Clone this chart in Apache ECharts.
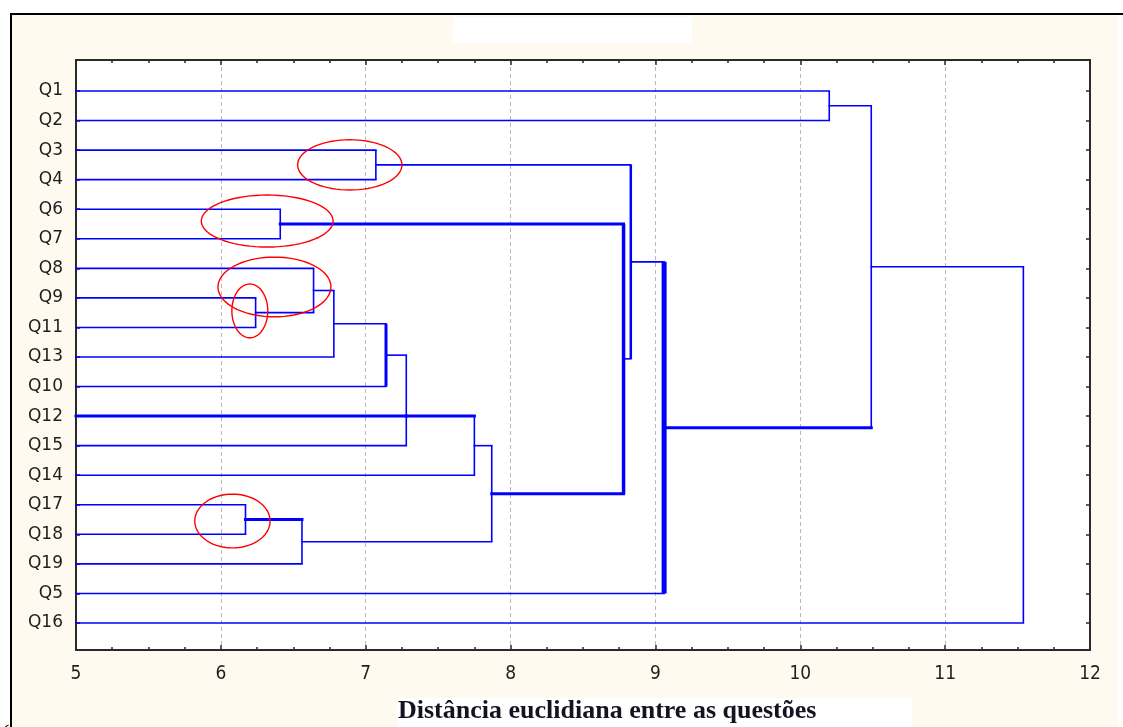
<!DOCTYPE html>
<html><head><meta charset="utf-8">
<script src="https://cdn.jsdelivr.net/npm/echarts@6/dist/echarts.min.js"></script>
<style>html,body{margin:0;padding:0;background:#fff}#c{width:1123px;height:727px}</style>
</head><body><div id="c"></div>
<script>
// ---- data ----
const leaves = ['Q1','Q2','Q3','Q4','Q6','Q7','Q8','Q9','Q11','Q13','Q10','Q12','Q15','Q14','Q17','Q18','Q19','Q5','Q16'];
const mergeIds = ['m0','m1','m2','m3','m4','m5','m6','m7','m8','m9','m10','m11','m12','m13','m14','m15','m16'];
const mergeChildren = [
  ['Q1','Q2'], ['Q3','Q4'], ['Q6','Q7'], ['Q9','Q11'], ['Q8','m3'], ['m4','Q13'],
  ['m5','Q10'], ['m6','Q12','Q15'], ['m7','Q14'], ['Q17','Q18'], ['m9','Q19'],
  ['m8','m10'], ['m2','m11'], ['m1','m12'], ['m13','Q5'], ['m0','m14'], ['m15','Q16']
];
const mergeHeights = [10.20, 7.07, 6.41, 6.24, 6.64, 6.78, 7.14, 7.28, 7.75, 6.17, 6.56, 7.87, 8.78, 8.83, 9.06, 10.49, 11.54];
const xTicks = [5, 6, 7, 8, 9, 10, 11, 12];
const axisTitle = 'Distância euclidiana entre as questões';
// red annotation ellipses: [centre distance, centre row, half width (distance), half height (rows)]
const ellipses = [[6.89, 2.50, 0.36, 0.85], [6.32, 4.40, 0.455, 0.88], [6.37, 6.63, 0.39, 1.01], [6.20, 7.44, 0.124, 0.91], [6.08, 14.55, 0.26, 0.91]];

// ---- styles ----
const outWidth = {Q12: 3, m2: 3, m7: 3, m9: 3, m11: 3, m14: 3};
const vertWidth = {m6: 3, m12: 3.5, m13: 2.5, m14: 5};
const thin = 1.6;
const BLUE = '#0000ff';
const FRAME = '#2a2a2a';

// ---- build tree segments ----
const xMin = xTicks[0], xMax = xTicks[xTicks.length - 1];
const nodeY = {}, nodeH = {};
leaves.forEach((l, i) => { nodeY[l] = i; nodeH[l] = xMin; });
const segs = [];
mergeIds.forEach((id, k) => {
  const ch = mergeChildren[k], h = mergeHeights[k];
  const ys = ch.map(c => nodeY[c]).sort((a, b) => a - b);
  nodeY[id] = ys.length === 2 ? (ys[0] + ys[1]) / 2 : ys[Math.floor(ys.length / 2)];
  nodeH[id] = h;
  ch.forEach(c => segs.push([nodeH[c], nodeY[c], h, nodeY[c], outWidth[c] || thin, 0]));
  segs.push([h, ys[0], h, ys[ys.length - 1], vertWidth[id] || thin, 1]);
});
const rowIdx = leaves.map((_, i) => i);

const chart = echarts.init(document.getElementById('c'), null, {renderer: 'canvas'});
chart.setOption({
  backgroundColor: '#fffaf0',
  animation: false,
  grid: {left: 76, top: 60, width: 1014, height: 590, show: true, backgroundColor: '#ffffff', borderWidth: 0},
  xAxis: [{
    type: 'value', min: xMin, max: xMax, interval: 1, position: 'bottom',
    axisLine: {show: true, onZero: false, lineStyle: {color: FRAME, width: 2}},
    axisTick: {show: true, inside: true, length: 5, lineStyle: {color: FRAME, width: 1.5}},
    minorTick: {show: true, splitNumber: 4, length: 3, lineStyle: {color: FRAME, width: 1.5}},
    axisLabel: {show: true, fontSize: 19, margin: 15, color: '#1e1e1e',
      fontFamily: '"DejaVu Sans Condensed", "Liberation Sans Narrow", "Liberation Sans", sans-serif'},
    splitLine: {show: true, lineStyle: {color: '#b8b8b8', type: [4, 3], width: 1}}
  }, {
    type: 'value', min: xMin, max: xMax, interval: 1, position: 'top',
    axisLine: {show: true, onZero: false, lineStyle: {color: FRAME, width: 2}},
    axisTick: {show: true, inside: true, length: 5, lineStyle: {color: FRAME, width: 1.5}},
    minorTick: {show: true, splitNumber: 4, length: 3, lineStyle: {color: FRAME, width: 1.5}},
    axisLabel: {show: false}, splitLine: {show: false}
  }],
  yAxis: [{
    type: 'value', inverse: true, min: -1.049, max: 18.914, position: 'left',
    axisLine: {show: true, onZero: false, lineStyle: {color: FRAME, width: 2}},
    axisTick: {show: true, inside: true, length: 4, customValues: rowIdx, lineStyle: {color: FRAME, width: 1.5}},
    axisLabel: {show: true, fontSize: 17, margin: 13, customValues: rowIdx, color: '#1e1e1e',
      fontFamily: '"DejaVu Sans", "Liberation Sans", sans-serif',
      formatter: v => leaves[Math.round(v)] || ''},
    splitLine: {show: false}
  }, {
    type: 'value', inverse: true, min: -1.049, max: 18.914, position: 'right',
    axisLine: {show: true, onZero: false, lineStyle: {color: FRAME, width: 2}},
    axisTick: {show: true, inside: true, length: 4, customValues: rowIdx, lineStyle: {color: FRAME, width: 1.5}},
    axisLabel: {show: false}, splitLine: {show: false}
  }],
  series: [{
    type: 'custom', xAxisIndex: 0, yAxisIndex: 0, clip: false, z: 3,
    data: segs,
    renderItem: (params, api) => {
      const p1 = api.coord([api.value(0), api.value(1)]);
      const p2 = api.coord([api.value(2), api.value(3)]);
      const vert = api.value(5) === 1;
      return {type: 'line', shape: {x1: p1[0], y1: p1[1], x2: p2[0], y2: p2[1]},
        style: {stroke: BLUE, lineWidth: api.value(4), lineCap: vert ? 'butt' : 'square'}};
    }
  }, {
    type: 'custom', xAxisIndex: 0, yAxisIndex: 0, clip: false, z: 4,
    data: ellipses,
    renderItem: (params, api) => {
      const cx = api.value(0), cy = api.value(1), rx = api.value(2), ry = api.value(3);
      const pts = [];
      for (let i = 0; i < 72; i++) {
        const a = i / 72 * Math.PI * 2;
        pts.push(api.coord([cx + rx * Math.cos(a), cy + ry * Math.sin(a)]));
      }
      return {type: 'polygon', shape: {points: pts}, style: {fill: 'none', stroke: '#ff0000', lineWidth: 1.4}};
    }
  }],
  graphic: [
    {type: 'rect', shape: {x: 0, y: 0, width: 10, height: 727}, style: {fill: '#ffffff'}, silent: true},
    {type: 'rect', shape: {x: 0, y: 0, width: 1123, height: 13}, style: {fill: '#ffffff'}, silent: true},
    {type: 'rect', shape: {x: 1118, y: 0, width: 5, height: 727}, style: {fill: '#ffffff'}, silent: true},
    {type: 'rect', shape: {x: 10, y: 13, width: 1113, height: 2}, style: {fill: '#000000'}, silent: true},
    {type: 'rect', shape: {x: 10, y: 13, width: 2, height: 714}, style: {fill: '#000000'}, silent: true},
    {type: 'rect', shape: {x: 453, y: 17, width: 239, height: 26}, style: {fill: '#ffffff'}, silent: true},
    {type: 'rect', shape: {x: 397, y: 698, width: 515, height: 29}, style: {fill: '#ffffff'}, silent: true},
    {type: 'text', x: 398, y: 724, style: {text: axisTitle, font: 'bold 26px "Liberation Serif", "Times New Roman", serif',
      fill: '#141420', textVerticalAlign: 'bottom', textBaseline: 'bottom'}, silent: true},
    {type: 'text', x: 3, y: 724, style: {text: '‘', font: 'bold 20px "Liberation Serif", serif', fill: '#000',
      textBaseline: 'bottom'}, silent: true}
  ]
});
</script></body></html>
